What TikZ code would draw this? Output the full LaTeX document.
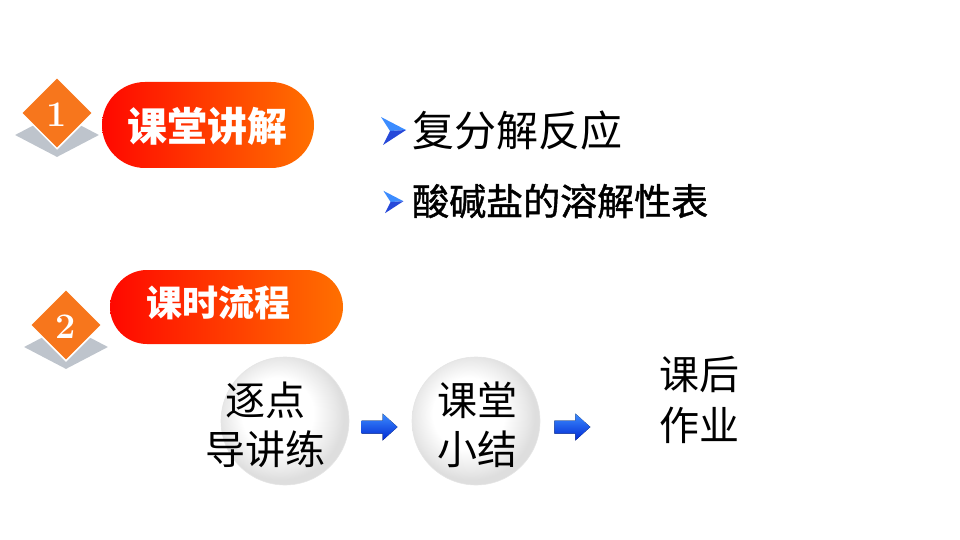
\documentclass[tikz,border=0pt]{standalone}
\usepackage{fontspec}
\newfontfamily\cjk{Noto Sans CJK SC}
\newfontfamily\cjkfb{Noto Sans CJK SC}[FakeBold=1.2]
\usetikzlibrary{shapes.geometric,calc}
\definecolor{dorange}{RGB}{247,118,28}
\definecolor{pillred}{RGB}{255,8,0}
\definecolor{pillorange}{RGB}{255,112,0}
\definecolor{shadowgray}{RGB}{190,196,204}
\definecolor{arrlight}{RGB}{60,140,255}
\definecolor{arrdark}{RGB}{0,40,210}
\pgfdeclareradialshading{ballshade}{\pgfpoint{-4bp}{4bp}}{color(0bp)=(white); color(14bp)=(white); color(22bp)=(gray!18); color(25bp)=(gray!26); color(50bp)=(gray!26)}
\begin{document}
\begin{tikzpicture}[x=1pt,y=-1pt,
  diam/.style={diamond,fill=dorange,draw=white,line width=1.5pt,minimum width=72pt,minimum height=72pt,inner sep=0pt},
  diamshadow/.style={diamond,fill=shadowgray,minimum width=84pt,minimum height=44pt,inner sep=0pt},
  numtext/.style={text=white,font=\fontsize{36}{36}\selectfont\bfseries,inner sep=0pt},
  pilltext/.style={text=white,font=\cjk\fontsize{40}{40}\selectfont\bfseries,inner sep=0pt},
  ballnode/.style={circle,minimum size=128pt,inner sep=0pt,shading=ballshade,draw=gray!20,line width=0.6pt},
  flowtext/.style={font=\cjk\fontsize{40}{49}\selectfont,align=center,inner sep=0pt},
  blkarrow/.pic={\fill[top color=arrlight,bottom color=arrdark] (-18,-6.5) -- (3,-6.5) -- (3,-13.5) -- (18,0) -- (3,13.5) -- (3,6.5) -- (-18,6.5) -- cycle;},
  bullet/.pic={\fill[arrlight] (-12,-14) -- (13,-1) -- (-3,0) -- cycle;
               \fill[arrdark!85] (-3,0) -- (13,-1) -- (-10,14) -- cycle;}
]
\useasboundingbox (0,0) rectangle (960,540);
% section 1
\node[diamshadow] (s1) at (57,135) {};
\node[diam] (d1) at (57,113) {};
\node[numtext] (n1) at (57,115) {1};
\path[left color=pillred,right color=pillorange,rounded corners=43pt] (102,82) rectangle (314,168);
\node[pilltext] (t1) at (207,126) {课堂讲解};
% bullets
\pic (b1) at (393,131) {bullet};
\node[anchor=west,inner sep=0pt,font=\cjk\fontsize{42}{42}\selectfont] (l1) at (412,131) {复分解反应};
\pic[scale=0.8] (b2) at (393,202) {bullet};
\node[anchor=west,inner sep=0pt,font=\cjkfb\fontsize{37}{37}\selectfont] (l2) at (412,201) {酸碱盐的溶解性表};
% section 2
\node[diamshadow] (s2) at (66,347) {};
\node[diam] (d2) at (66,325) {};
\node[numtext] (n2) at (66,327) {2};
\path[left color=pillred,right color=pillorange,rounded corners=37pt] (110,270) rectangle (343,344);
\node[pilltext,font=\cjk\fontsize{36}{36}\selectfont\bfseries] (t2) at (218,303) {课时流程};
% flow
\node[ballnode] (c1) at (285,421) {};
\node[ballnode] (c2) at (476,421) {};
\node[flowtext] (f1) at (265,425) {逐点\\导讲练};
\node[flowtext] (f2) at (477,425) {课堂\\小结};
\node[flowtext,font=\cjk\fontsize{40}{51}\selectfont] (f3) at (699,400) {课后\\作业};
\coordinate (a1) at ($(c1.east)!0.5!(c2.west)+(-1,6)$);
\coordinate (a2) at ($(c2.east)+(32,6)$);
\pic at (a1) {blkarrow};
\pic at (a2) {blkarrow};
\end{tikzpicture}
\end{document}
